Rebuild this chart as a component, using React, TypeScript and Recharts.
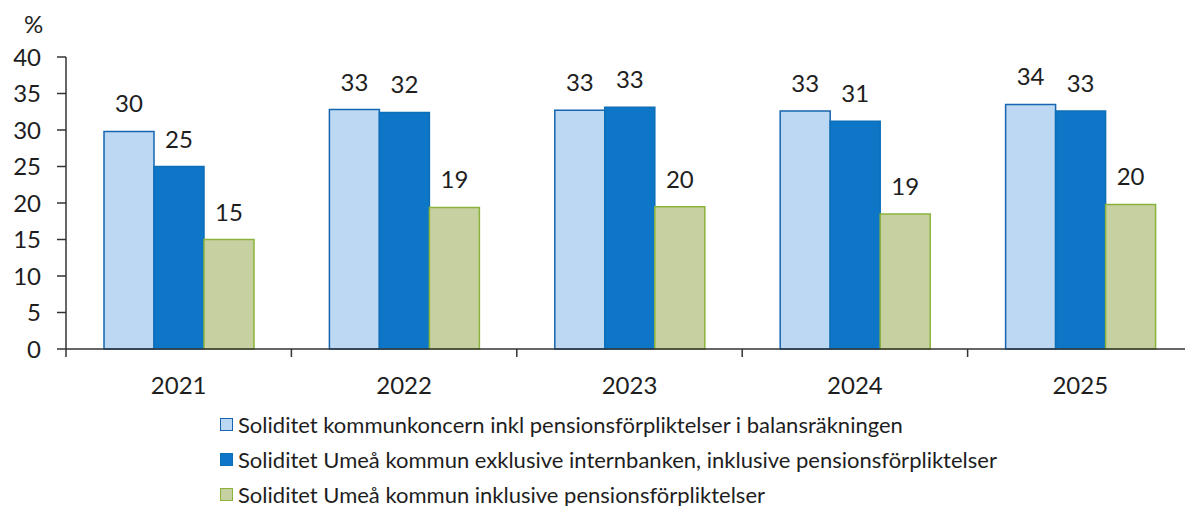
import React from 'react';
import { BarChart, Bar, XAxis, YAxis, LabelList } from 'recharts';

const categories = ['2021', '2022', '2023', '2024', '2025'];
const koncernInkl = [29.8, 32.8, 32.7, 32.6, 33.5];
const umeaExklInternbank = [25.0, 32.4, 33.1, 31.2, 32.6];
const umeaInkl = [15.0, 19.4, 19.5, 18.5, 19.8];
const yTicks = [0, 5, 10, 15, 20, 25, 30, 35, 40];

const seriesNames = [
  'Soliditet kommunkoncern inkl pensionsförpliktelser i balansräkningen',
  'Soliditet Umeå kommun exklusive internbanken, inklusive pensionsförpliktelser',
  'Soliditet Umeå kommun inklusive pensionsförpliktelser',
];
const seriesKeys = ['koncern', 'umeaExkl', 'umeaInkl'];
const fills = ['#bcd8f2', '#0d76c6', '#c6d0a0'];
const strokes = ['#1565b0', '#0d6fb8', '#8bb33b'];

const data = categories.map((c, i) => ({
  year: c,
  koncern: koncernInkl[i],
  umeaExkl: umeaExklInternbank[i],
  umeaInkl: umeaInkl[i],
}));

const FONT = 'Lato, "Open Sans", sans-serif';
const W = 1185;
const H = 506;
const M = { top: 57, right: -8, bottom: 127, left: 0 };
const Y_W = 66;
const X_H = 30;
const BAND = (W - M.left - M.right - Y_W) / categories.length;

const CatTick = (props: any) => {
  const { x, y, payload, index } = props;
  const axisY = y - 8;
  return (
    <g>
      <line x1={x - BAND / 2} x2={x - BAND / 2} y1={axisY} y2={axisY + 8} stroke="#333" strokeWidth={1.5} />
      {index === categories.length - 1 && (
        <line x1={x + BAND / 2} x2={x + BAND / 2} y1={axisY} y2={axisY + 8} stroke="#333" strokeWidth={1.5} />
      )}
      <text x={x} y={y + 20} dy="0.71em" textAnchor="middle" fill="#1e1e1e" fontSize={24} fontFamily={FONT}>
        {payload.value}
      </text>
    </g>
  );
};

const fmt = (v: any) => String(Math.round(Number(v)));

export default function App() {
  return (
    <div style={{ position: 'absolute', left: 0, top: 0, width: W, height: H, background: '#fff', fontFamily: FONT }}>
      <div style={{ position: 'absolute', left: 24, top: 12, fontSize: 24, lineHeight: '24px', color: '#1e1e1e' }}>%</div>
      <BarChart
        width={W}
        height={H}
        data={data}
        margin={M}
        barSize={50}
        barGap={0}
        style={{ overflow: 'hidden' }}
      >
        <XAxis
          dataKey="year"
          height={X_H}
          axisLine={{ stroke: '#333', strokeWidth: 1.5 }}
          tickLine={false}
          tickSize={8}
          tickMargin={0}
          tick={<CatTick />}
          interval={0}
        />
        <YAxis
          width={Y_W}
          domain={[0, 40]}
          ticks={yTicks}
          interval={0}
          axisLine={{ stroke: '#333', strokeWidth: 1.5 }}
          tickLine={{ stroke: '#333', strokeWidth: 1.5 }}
          tickSize={9}
          tickMargin={16}
          tick={{ fill: '#1e1e1e', fontSize: 24, fontFamily: FONT }}
        />
        {seriesKeys.map((k, i) => (
          <Bar
            key={k}
            dataKey={k}
            name={seriesNames[i]}
            fill={fills[i]}
            stroke={strokes[i]}
            strokeWidth={1.5}
            isAnimationActive={false}
          >
            <LabelList
              dataKey={k}
              position="top"
              offset={19}
              formatter={fmt}
              fill="#1e1e1e"
              fontSize={24}
              fontFamily={FONT}
            />
          </Bar>
        ))}
      </BarChart>
      <div style={{ position: 'absolute', left: 220, top: 407 }}>
        {seriesNames.map((n, i) => (
          <div key={n} style={{ display: 'flex', alignItems: 'center', height: 35, fontSize: 22, color: '#1e1e1e', whiteSpace: 'nowrap' }}>
            <span
              style={{
                display: 'inline-block',
                width: 11,
                height: 11,
                background: fills[i],
                border: `1.5px solid ${strokes[i]}`,
                marginRight: 5,
              }}
            />
            <span>{n}</span>
          </div>
        ))}
      </div>
    </div>
  );
}
